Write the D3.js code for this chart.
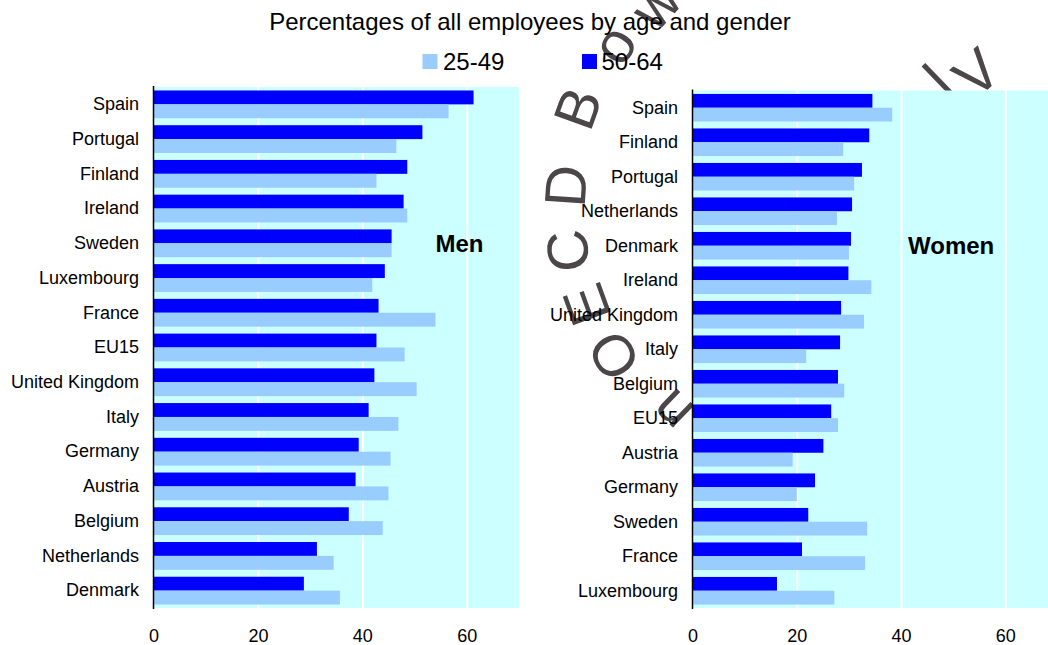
<!DOCTYPE html>
<html>
<head>
<meta charset="utf-8">
<script src="https://cdn.jsdelivr.net/npm/d3@7"></script>
<style>
  body { margin: 0; background: #fff; }
  text { font-family: Arial, "Liberation Sans", sans-serif; }
</style>
</head>
<body>
<svg id="chart" width="1048" height="645"></svg>
<script>
// values (percent of all employees)
var menCountries = ["Spain", "Portugal", "Finland", "Ireland", "Sweden", "Luxembourg", "France", "EU15",
  "United Kingdom", "Italy", "Germany", "Austria", "Belgium", "Netherlands", "Denmark"];
var men5064 = [61.3, 51.5, 48.6, 47.9, 45.6, 44.3, 43.1, 42.7, 42.3, 41.2, 39.3, 38.7, 37.4, 31.3, 28.8];
var men2549 = [56.5, 46.5, 42.7, 48.6, 45.6, 41.9, 54.0, 48.1, 50.4, 46.9, 45.4, 45.0, 43.9, 34.5, 35.7];

var womenCountries = ["Spain", "Finland", "Portugal", "Netherlands", "Denmark", "Ireland", "United Kingdom",
  "Italy", "Belgium", "EU15", "Austria", "Germany", "Sweden", "France", "Luxembourg"];
var women5064 = [34.5, 33.9, 32.5, 30.6, 30.4, 29.9, 28.5, 28.3, 27.9, 26.6, 25.1, 23.5, 22.2, 21.0, 16.2];
var women2549 = [38.3, 28.9, 31.0, 27.7, 30.0, 34.3, 32.9, 21.8, 29.1, 27.9, 19.2, 20.0, 33.5, 33.1, 27.2];

var seriesNames = ["25-49", "50-64"];
var xTicks = [0, 20, 40, 60];
var title = "Percentages of all employees by age and gender";

var colors = { "25-49": "#99CCFF", "50-64": "#0000FF" };

var svg = d3.select("#chart");

// faint OECD watermark, sits behind the plot areas
var watermark = [
  { ch: "n", x: 671, y: 412, a: -136 },
  { ch: "O", x: 613, y: 356, a: -122 },
  { ch: "E", x: 586, y: 305, a: -110 },
  { ch: "C", x: 567, y: 251, a: -97 },
  { ch: "D", x: 565, y: 186, a: -86 },
  { ch: "B", x: 577, y: 108, a: -70 },
  { ch: "o", x: 613, y: 44, a: -58 },
  { ch: "w", x: 655, y: 4, a: -48 },
  { ch: "l", x: 938, y: 80, a: -44 },
  { ch: "V", x: 976, y: 72, a: -41 },
  { ch: "O", x: 1062, y: -14, a: -40 }
];
svg.append("g").selectAll("text")
  .data(watermark)
  .join("text")
    .attr("transform", function(d) { return "translate(" + d.x + "," + d.y + ") rotate(" + d.a + ")"; })
    .attr("text-anchor", "middle")
    .attr("dy", "0.36em")
    .attr("font-size", 58)
    .attr("fill", "#4b4648")
    .text(function(d) { return d.ch; });

var panels = [
  { name: "Men", cats: menCountries, a: men2549, b: men5064, x0: 153.5, x1: 519, y0: 87, y1: 608, lx: 58.6, li: 4 },
  { name: "Women", cats: womenCountries, a: women2549, b: women5064, x0: 692.5, x1: 1057.5, y0: 90.5, y1: 608, lx: 49.6, li: 4 }
];

panels.forEach(function(p) {
  var x = d3.scaleLinear().domain([0, 70]).range([p.x0, p.x1]);
  var y = d3.scaleBand().domain(p.cats).range([p.y0, p.y1]).paddingInner(0.2).paddingOuter(0.1);
  var inner = d3.scaleBand().domain(["50-64", "25-49"]).range([0, y.bandwidth()]);

  var rows = p.cats.map(function(c, i) {
    return { cat: c, "25-49": p.a[i], "50-64": p.b[i] };
  });

  var g = svg.append("g");

  g.append("rect")
    .attr("x", p.x0)
    .attr("y", p.y0)
    .attr("width", p.x1 - p.x0)
    .attr("height", p.y1 - p.y0)
    .attr("fill", "#CCFFFF");

  // white gridlines
  g.append("g")
    .attr("transform", "translate(0," + p.y1 + ")")
    .call(d3.axisBottom(x).tickValues(xTicks.filter(function(t) { return t > 0; })).tickSize(-(p.y1 - p.y0)).tickFormat(""))
    .call(function(ax) { ax.select(".domain").remove(); })
    .selectAll("line")
      .attr("stroke", "#fff")
      .attr("stroke-width", 2);

  g.append("g").selectAll("g")
    .data(rows)
    .join("g")
      .attr("transform", function(d) { return "translate(0," + y(d.cat) + ")"; })
    .selectAll("rect")
    .data(function(d) { return ["50-64", "25-49"].map(function(k) { return { key: k, value: d[k] }; }); })
    .join("rect")
      .attr("x", x(0))
      .attr("y", function(d) { return inner(d.key); })
      .attr("width", function(d) { return x(d.value) - x(0); })
      .attr("height", inner.bandwidth())
      .attr("fill", function(d) { return colors[d.key]; });

  // x tick labels
  g.append("g")
    .attr("transform", "translate(0," + p.y1 + ")")
    .call(d3.axisBottom(x).tickValues(xTicks).tickSize(0).tickPadding(21))
    .call(function(ax) { ax.select(".domain").remove(); })
    .selectAll("text")
      .attr("font-size", 18)
      .attr("font-family", "Arial, 'Liberation Sans', sans-serif")
      .attr("fill", "#000");

  // category axis
  var ya = g.append("g")
    .attr("transform", "translate(" + p.x0 + ",0)")
    .call(d3.axisLeft(y).tickSize(0).tickPadding(14.5));
  ya.select(".domain")
    .attr("d", "M0," + (p.y0 - 1) + "V" + (p.y1 + 1))
    .attr("stroke", "#000")
    .attr("stroke-width", 1.5);
  ya.selectAll("text")
    .attr("font-size", 18)
    .attr("font-family", "Arial, 'Liberation Sans', sans-serif")
    .attr("fill", "#000");

  g.append("text")
    .attr("x", x(p.lx))
    .attr("y", y(p.cats[p.li]) + y.bandwidth() / 2)
    .attr("dy", "0.35em")
    .attr("text-anchor", "middle")
    .attr("font-size", 24)
    .attr("font-weight", "bold")
    .text(p.name);
});

svg.append("text")
  .attr("x", 530)
  .attr("y", 30)
  .attr("text-anchor", "middle")
  .attr("font-size", 24)
  .text(title);

var legendPos = { "25-49": 422.5, "50-64": 582 };
var lg = svg.append("g").selectAll("g")
  .data(seriesNames)
  .join("g")
    .attr("transform", function(d) { return "translate(" + legendPos[d] + ",54)"; });
lg.append("rect")
  .attr("width", 15)
  .attr("height", 15)
  .attr("fill", function(d) { return colors[d]; });
lg.append("text")
  .attr("x", function(d) { return d === "25-49" ? 20.5 : 19.5; })
  .attr("y", 15.5)
  .attr("font-size", 24)
  .text(function(d) { return d; });
</script>
</body>
</html>
